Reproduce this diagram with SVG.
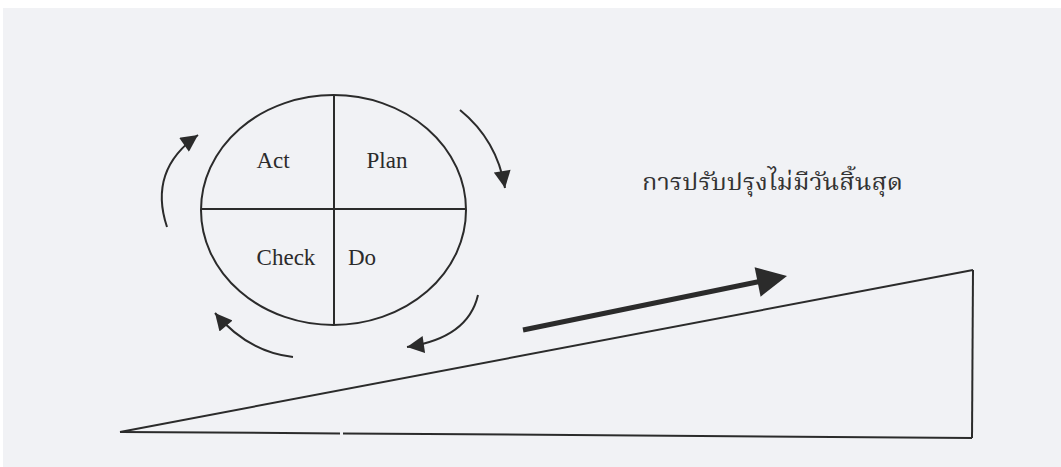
<svg xmlns="http://www.w3.org/2000/svg" width="1061" height="467" viewBox="0 0 1061 467">
  <defs>
    <marker id="ah" viewBox="0 0 10 10" refX="10" refY="5" markerUnits="userSpaceOnUse" markerWidth="18" markerHeight="17" orient="auto">
      <path d="M0,0 L10,5 L0,10 z" fill="#2b2b2b"/>
    </marker>
    <style>
      .ln { fill: none; stroke: #2b2b2b; stroke-width: 2; }
      .cy { fill: none; stroke: #2b2b2b; stroke-width: 2; marker-end: url(#ah); }
      .lbl { font-family: "Liberation Serif", "Times New Roman", serif; font-size: 23px; fill: #2b2b2b; text-anchor: middle; }
      .th { font-family: "Noto Serif Thai", "Noto Sans Thai", "Noto Sans", "DejaVu Sans", sans-serif; font-size: 23px; fill: #333; }
    </style>
  </defs>
  <rect x="0" y="0" width="1061" height="467" fill="#ffffff"/>
  <rect x="3" y="8" width="1058" height="459" fill="#f1f2f5"/>

  <g id="pdca-circle">
    <ellipse cx="333.5" cy="210" rx="132.5" ry="115" class="ln"/>
    <line x1="334" y1="95" x2="334" y2="325" class="ln"/>
    <line x1="201" y1="209" x2="466" y2="209" class="ln"/>
  </g>
  <g id="act"><text x="273" y="168" class="lbl">Act</text></g>
  <g id="plan"><text x="387" y="168" class="lbl">Plan</text></g>
  <g id="check"><text x="286" y="265" class="lbl">Check</text></g>
  <g id="do"><text x="362" y="265" class="lbl">Do</text></g>

  <g id="slope">
    <line x1="120" y1="432" x2="973" y2="270" class="ln"/>
    <line x1="973" y1="270" x2="972" y2="438" class="ln"/>
    <line x1="120" y1="432" x2="340" y2="433.4" class="ln"/>
    <line x1="343" y1="433.4" x2="972" y2="438" class="ln"/>
  </g>

  <g id="label-improvement">
    <text x="642" y="190" class="th" textLength="261" lengthAdjust="spacingAndGlyphs">การปรับปรุงไม่มีวันสิ้นสุด</text>
  </g>

  <g id="connectors">
    <path d="M460,110 Q497,140 505,188" class="cy"/>
    <path d="M478,295 Q468,338 407,347" class="cy"/>
    <path d="M293,357 Q248,352 215,313" class="cy"/>
    <path d="M167,227 Q148,170 198,135" class="cy"/>
    <line x1="523" y1="330" x2="762" y2="281" stroke="#2b2b2b" stroke-width="5"/>
    <polygon points="787,276 754.6,267.3 760.6,296.7" fill="#2b2b2b"/>
  </g>
</svg>
